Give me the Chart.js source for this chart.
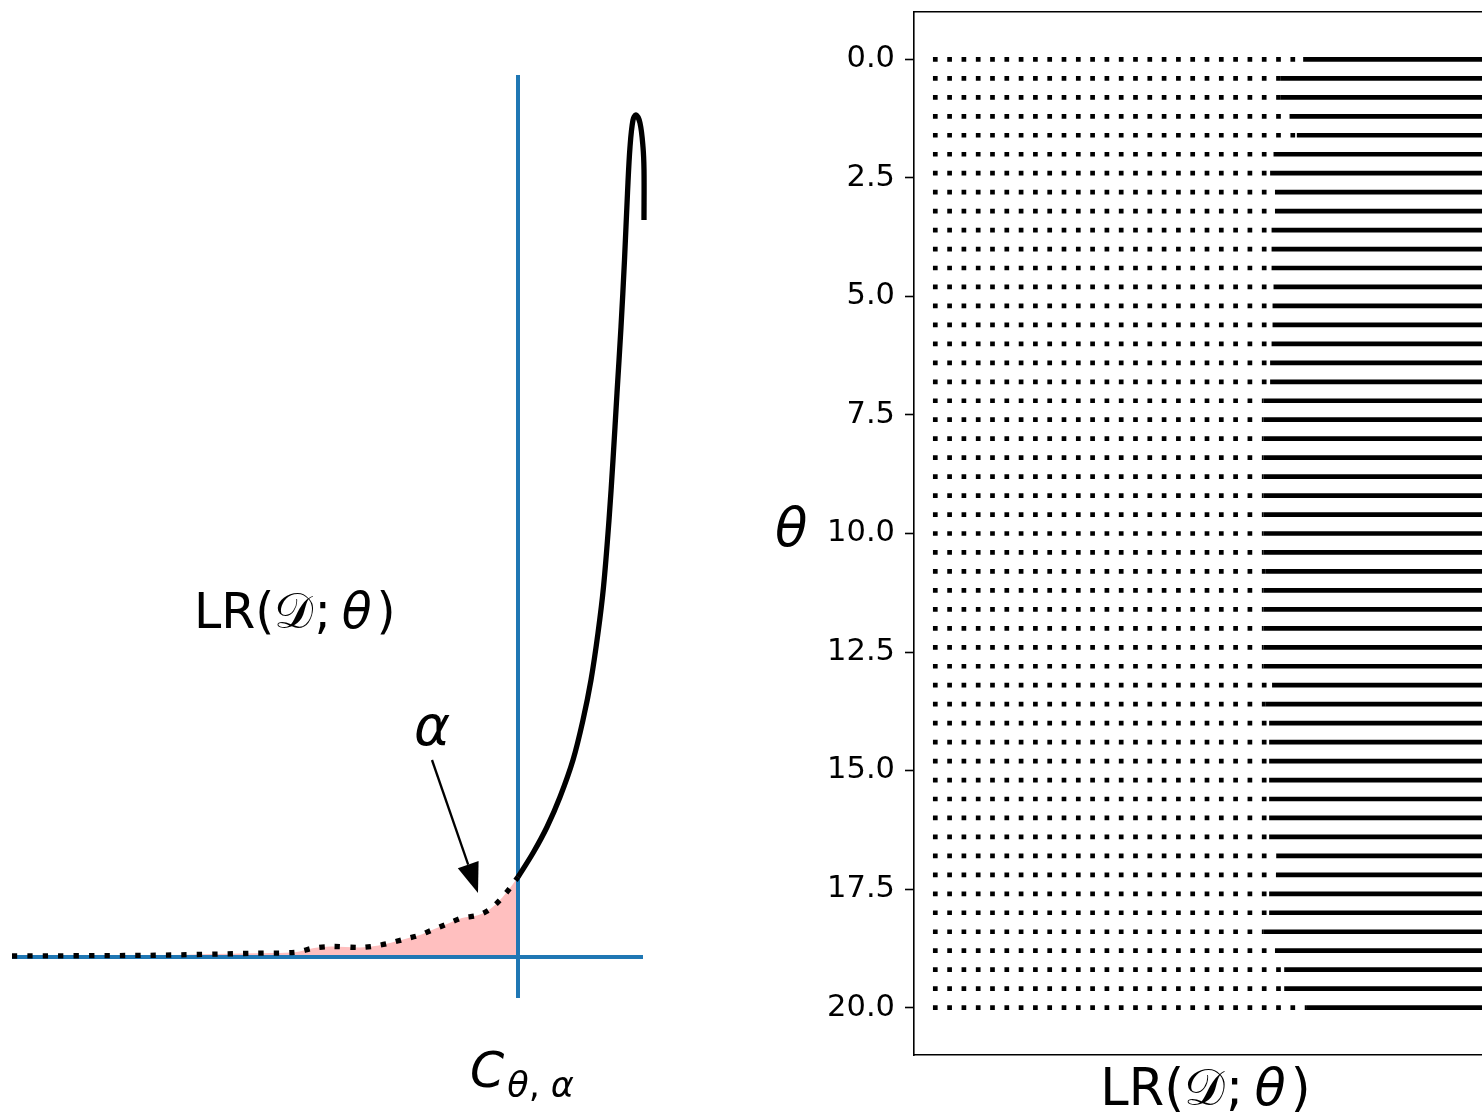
<!DOCTYPE html>
<html>
<head>
<meta charset="utf-8">
<script src="https://cdn.jsdelivr.net/npm/chart.js@4.4.1/dist/chart.umd.min.js"></script>
<style>
  html, body { margin: 0; padding: 0; background: #fff; }
  body { width: 1482px; height: 1113px; overflow: hidden; position: relative; }
  #left { position: absolute; left: 0; top: 0; width: 700px; height: 1113px; }
  #right { position: absolute; left: 700px; top: 0; width: 797px; height: 1113px; }
</style>
</head>
<body>
<div id="left"><canvas id="densityChart"></canvas></div>
<div id="right"><canvas id="thetaChart"></canvas></div>
<script>
// ---- left panel: sampling distribution of LR under theta ----
const tailLR      = [0.24, 3.0, 5.06, 5.9, 6.28, 6.62, 7.2, 7.5, 7.8, 8.1, 8.4, 8.64, 8.94, 9.24, 9.54, 9.78, 10.0, 10.2, 10.36];
const tailDensity = [0.01, 0.017, 0.037, 0.047, 0.09, 0.105, 0.095, 0.11, 0.14, 0.18, 0.22, 0.27, 0.33, 0.39, 0.415, 0.47, 0.57, 0.69, 0.80];
const bodyLR      = [10.36, 10.66, 10.94, 11.2, 11.46, 11.66, 11.82, 11.96, 12.07, 12.18, 12.26, 12.34, 12.42, 12.49, 12.55, 12.60, 12.66, 12.72, 12.80, 12.86, 12.88, 12.88];
const bodyDensity = [0.80, 1.04, 1.30, 1.60, 1.97, 2.37, 2.77, 3.24, 3.70, 4.37, 4.97, 5.64, 6.30, 6.97, 7.64, 8.10, 8.37, 8.42, 8.34, 8.10, 7.87, 7.37];
const criticalValue = 10.36;          // C_{theta,alpha}
const criticalSpan  = [-0.41, 8.82];  // vertical extent of the critical line
const baselineSpan  = [0.24, 12.86];  // horizontal extent of the zero line
const alphaArrow    = [[8.64, 1.97], [9.56, 0.64]];

// ---- right panel: acceptance / rejection per theta ----
const thetaValues = [0, 0.4, 0.8, 1.2, 1.6, 2, 2.4, 2.8, 3.2, 3.6, 4, 4.4, 4.8, 5.2, 5.6, 6, 6.4, 6.8, 7.2, 7.6,
                     8, 8.4, 8.8, 9.2, 9.6, 10, 10.4, 10.8, 11.2, 11.6, 12, 12.4, 12.8, 13.2, 13.6, 14, 14.4, 14.8, 15.2, 15.6,
                     16, 16.4, 16.8, 17.2, 17.6, 18, 18.4, 18.8, 19.2, 19.6, 20];
const criticalLR  = [8.01, 7.55, 7.55, 7.73, 7.88, 7.40, 7.33, 7.43, 7.43, 7.36, 7.36, 7.36, 7.40, 7.38, 7.38, 7.36, 7.33, 7.33, 7.19, 7.19,
                     7.19, 7.19, 7.19, 7.19, 7.19, 7.19, 7.19, 7.23, 7.19, 7.19, 7.19, 7.19, 7.19, 7.37, 7.24, 7.31, 7.31, 7.31, 7.31, 7.31,
                     7.31, 7.31, 7.47, 7.45, 7.31, 7.31, 7.20, 7.43, 7.62, 7.62, 8.07];
const lrRange     = [0.39, 12];
const yTickValues = [0, 2.5, 5, 7.5, 10, 12.5, 15, 17.5, 20];

const FAMILY = '"DejaVu Sans"';
const BLUE = '#1f77b4';

function lrRuns(size) {
    return [
        { text: 'LR(', font: `${size}px ${FAMILY}` },
        { text: '𝒟', font: `${size}px ${FAMILY}`, kern: size * 0.02 },
        { text: ';', font: `${size}px ${FAMILY}`, kern: size * 0.22 },
        { text: 'θ', font: `italic ${size}px ${FAMILY}`, kern: size * 0.1 },
        { text: ')', font: `${size}px ${FAMILY}` }
    ];
}

// draws a run of differently styled pieces on one baseline
function drawRuns(ctx, runs, x, y, align) {
    ctx.save();
    ctx.fillStyle = '#000';
    ctx.textAlign = 'left';
    ctx.textBaseline = 'alphabetic';
    let total = 0;
    runs.forEach(r => { ctx.font = r.font; total += ctx.measureText(r.text).width + (r.kern || 0); });
    let cx = align === 'center' ? x - total / 2 : x;
    runs.forEach(r => {
        ctx.font = r.font;
        ctx.fillText(r.text, cx, y + (r.dy || 0));
        cx += ctx.measureText(r.text).width + (r.kern || 0);
    });
    ctx.restore();
}

const densityLabels = {
    id: 'densityLabels',
    afterDatasetsDraw(chart) {
        const { ctx, scales: { x, y } } = chart;
        // arrow pointing at the tail area
        const sx = x.getPixelForValue(alphaArrow[0][0]), sy = y.getPixelForValue(alphaArrow[0][1]);
        const tx = x.getPixelForValue(alphaArrow[1][0]), ty = y.getPixelForValue(alphaArrow[1][1]);
        const len = Math.hypot(tx - sx, ty - sy);
        const ux = (tx - sx) / len, uy = (ty - sy) / len;
        const headLen = 30, headHalf = 11;
        const bx = tx - ux * headLen, by = ty - uy * headLen;
        ctx.save();
        ctx.strokeStyle = '#000';
        ctx.fillStyle = '#000';
        ctx.lineWidth = 2.3;
        ctx.beginPath();
        ctx.moveTo(sx, sy);
        ctx.lineTo(bx, by);
        ctx.stroke();
        ctx.beginPath();
        ctx.moveTo(tx, ty);
        ctx.lineTo(bx - uy * headHalf, by + ux * headHalf);
        ctx.lineTo(bx + uy * headHalf, by - ux * headHalf);
        ctx.closePath();
        ctx.fill();
        ctx.restore();

        drawRuns(ctx, lrRuns(49), x.getPixelForValue(3.88), y.getPixelForValue(3.29), 'left');
        drawRuns(ctx, [{ text: 'α', font: `italic 55px ${FAMILY}` }],
                 x.getPixelForValue(8.28), y.getPixelForValue(2.12), 'left');
        drawRuns(ctx, [
            { text: 'C', font: `italic 49px ${FAMILY}`, kern: 3 },
            { text: 'θ', font: `italic 35px ${FAMILY}`, dy: 10 },
            { text: ',', font: `35px ${FAMILY}`, dy: 10, kern: 11 },
            { text: 'α', font: `italic 35px ${FAMILY}`, dy: 10 }
        ], x.getPixelForValue(9.40), y.getPixelForValue(-1.30), 'left');
    }
};

new Chart(document.getElementById('densityChart'), {
    type: 'scatter',
    data: {
        datasets: [
            { label: 'tail', data: tailLR.map((v, i) => ({ x: v, y: tailDensity[i] })),
              showLine: true, borderColor: '#000', borderWidth: 5.3, borderDash: [5.3, 10.1],
              fill: 'origin', backgroundColor: '#ffbfbf', tension: 0.3, pointRadius: 0, order: 0 },
            { label: 'body', data: bodyLR.map((v, i) => ({ x: v, y: bodyDensity[i] })),
              showLine: true, borderColor: '#000', borderWidth: 5.3, tension: 0.35, pointRadius: 0, order: 0 },
            { label: 'critical', data: criticalSpan.map(v => ({ x: criticalValue, y: v })),
              showLine: true, borderColor: BLUE, borderWidth: 4, pointRadius: 0, order: 1 },
            { label: 'zero', data: baselineSpan.map(v => ({ x: v, y: 0 })),
              showLine: true, borderColor: BLUE, borderWidth: 4, pointRadius: 0, order: 1 }
        ]
    },
    options: {
        animation: false,
        responsive: true,
        maintainAspectRatio: false,
        devicePixelRatio: 1,
        events: [],
        layout: { padding: 0, autoPadding: false },
        plugins: { legend: { display: false }, tooltip: { enabled: false }, filler: { drawTime: 'beforeDatasetsDraw' } },
        scales: {
            x: { type: 'linear', display: false, min: 0, max: 14 },
            y: { type: 'linear', display: false, min: -1.56, max: 9.57 }
        }
    },
    plugins: [densityLabels]
});

const thetaLabels = {
    id: 'thetaLabels',
    afterDraw(chart) {
        const { ctx, chartArea } = chart;
        drawRuns(ctx, [{ text: 'θ', font: `italic 53px ${FAMILY}` }],
                 chartArea.left - 139, (chartArea.top + chartArea.bottom) / 2 + 12, 'left');
        drawRuns(ctx, lrRuns(51), (chartArea.left + chartArea.right) / 2, chartArea.bottom + 50, 'center');
    }
};

const rowDatasets = thetaValues.flatMap((theta, i) => [
    { data: [{ x: lrRange[0], y: theta }, { x: criticalLR[i], y: theta }], borderDash: [4.7, 9.6] },
    { data: [{ x: criticalLR[i], y: theta }, { x: lrRange[1], y: theta }] }
].map(d => Object.assign(d, { showLine: true, borderColor: '#000', borderWidth: 4.7, pointRadius: 0 })));

const spine = { display: true, color: '#000', width: 1.6 };

new Chart(document.getElementById('thetaChart'), {
    type: 'scatter',
    data: { datasets: rowDatasets },
    options: {
        animation: false,
        responsive: true,
        maintainAspectRatio: false,
        devicePixelRatio: 1,
        events: [],
        layout: { padding: { top: 12, left: 0, right: 0, bottom: 0 }, autoPadding: false },
        plugins: { legend: { display: false }, tooltip: { enabled: false } },
        scales: {
            x: {
                type: 'linear', position: 'bottom', min: 0, max: 12,
                grid: { display: false }, ticks: { display: false }, border: spine,
                afterFit: s => { s.height = 58; s.paddingLeft = 0; s.paddingRight = 0; }
            },
            xTop: {
                type: 'linear', position: 'top', min: 0, max: 1,
                grid: { display: false }, ticks: { display: false }, border: spine,
                afterFit: s => { s.height = 0; s.paddingLeft = 0; s.paddingRight = 0; }
            },
            y: {
                type: 'linear', position: 'left', reverse: true, min: -1, max: 21,
                afterBuildTicks: s => { s.ticks = yTickValues.map(v => ({ value: v })); },
                ticks: {
                    autoSkip: false, padding: 10, color: '#000',
                    font: { family: 'DejaVu Sans', size: 30.5 },
                    callback: v => Number(v).toFixed(1)
                },
                grid: { display: true, drawOnChartArea: false, drawTicks: true, tickLength: 9, tickColor: '#000', tickWidth: 1.6 },
                border: spine,
                afterFit: s => { s.width = 214; s.paddingTop = 0; s.paddingBottom = 0; }
            }
        }
    },
    plugins: [thetaLabels]
});
</script>
</body>
</html>
